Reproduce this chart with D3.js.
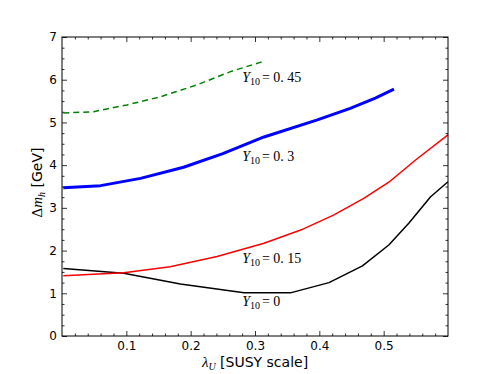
<!DOCTYPE html>
<html>
<head>
<meta charset="utf-8">
<script src="https://cdn.jsdelivr.net/npm/d3@7"></script>
<style>
  body { margin: 0; background: #fff; }
  .tick text { font-family: 'DejaVu Sans', sans-serif; font-size: 12px; fill: #000; }
  .math { font-family: 'Liberation Serif', serif; }
</style>
</head>
<body>
<div id="chart"></div>
<script>
// curves for different Y10
const y0 = [[0.002, 1.58], [0.096, 1.47], [0.184, 1.22], [0.283, 1.01], [0.355, 1.01],
  [0.415, 1.25], [0.467, 1.64], [0.508, 2.13], [0.539, 2.64], [0.573, 3.26], [0.6, 3.61]]
const y015 = [[0.002, 1.41], [0.096, 1.48], [0.168, 1.62], [0.241, 1.86], [0.314, 2.17],
  [0.371, 2.48], [0.422, 2.83], [0.469, 3.22], [0.508, 3.6], [0.552, 4.15], [0.6, 4.71]]
const y03 = [[0.002, 3.47], [0.06, 3.52], [0.122, 3.69], [0.189, 3.95], [0.25, 4.27],
  [0.314, 4.66], [0.397, 5.06], [0.448, 5.33], [0.487, 5.57], [0.516, 5.78]]
const y045 = [[0.002, 5.22], [0.049, 5.25], [0.101, 5.41], [0.153, 5.6], [0.21, 5.88],
  [0.262, 6.19], [0.311, 6.42]]

const xTicks = [0.1, 0.2, 0.3, 0.4, 0.5]
const yTicks = [0, 1, 2, 3, 4, 5, 6, 7]

// label anchors in data coords: [x, y, value text]
const labels = [[0.28, 5.95, '0. 45'], [0.28, 4.1, '0. 3'], [0.28, 1.72, '0. 15'], [0.28, 0.7, '0']]

const outerWidth = 498
const outerHeight = 374
const margin = {top: 37, right: 50, bottom: 38, left: 62}
const width = outerWidth - margin.left - margin.right
const height = outerHeight - margin.top - margin.bottom

const svg = d3.select('#chart').append('svg')
  .attr('width', outerWidth)
  .attr('height', outerHeight)
  .append('g')
  .attr('transform', `translate(${margin.left},${margin.top})`)

const xs = d3.scaleLinear().domain([0, 0.6]).range([0, width])
const ys = d3.scaleLinear().domain([0, 7]).range([height, 0])

const xMinor = d3.range(0, 0.601, 0.02).filter(v => Math.abs(v * 10 - Math.round(v * 10)) > 1e-6)
const yMinor = d3.range(0, 7.001, 0.25).filter(v => Math.abs(v - Math.round(v)) > 1e-6)

function styleAxis (g) {
  g.selectAll('.domain').remove()
  g.selectAll('.tick line').attr('stroke', '#000').attr('stroke-width', 0.8)
}

// major ticks, pointing inward, mirrored on top/right
svg.append('g').attr('transform', `translate(0,${height})`)
  .call(d3.axisBottom(xs).tickValues(xTicks).tickSizeInner(-5).tickSizeOuter(0).tickPadding(5)
    .tickFormat(d3.format('.1f')))
  .call(styleAxis)
svg.append('g')
  .call(d3.axisTop(xs).tickValues(xTicks).tickSizeInner(-5).tickSizeOuter(0).tickFormat(''))
  .call(styleAxis)
svg.append('g')
  .call(d3.axisLeft(ys).tickValues(yTicks).tickSizeInner(-5).tickSizeOuter(0).tickPadding(5)
    .tickFormat(d3.format('d')))
  .call(styleAxis)
svg.append('g').attr('transform', `translate(${width},0)`)
  .call(d3.axisRight(ys).tickValues(yTicks).tickSizeInner(-5).tickSizeOuter(0).tickFormat(''))
  .call(styleAxis)

// minor ticks
svg.append('g').attr('transform', `translate(0,${height})`)
  .call(d3.axisBottom(xs).tickValues(xMinor).tickSize(-2.5).tickFormat(''))
  .call(styleAxis)
svg.append('g')
  .call(d3.axisTop(xs).tickValues(xMinor).tickSize(-2.5).tickFormat(''))
  .call(styleAxis)
svg.append('g')
  .call(d3.axisLeft(ys).tickValues(yMinor).tickSize(-2.5).tickFormat(''))
  .call(styleAxis)
svg.append('g').attr('transform', `translate(${width},0)`)
  .call(d3.axisRight(ys).tickValues(yMinor).tickSize(-2.5).tickFormat(''))
  .call(styleAxis)

// curves
const line = d3.line().x(d => xs(d[0])).y(d => ys(d[1]))
const series = [
  {data: y0, color: '#000000', w: 1.5, dash: null},
  {data: y015, color: '#ff0000', w: 1.5, dash: null},
  {data: y03, color: '#0000ff', w: 3, dash: null},
  {data: y045, color: '#008000', w: 1.5, dash: '6,4'}
]
svg.append('g')
  .selectAll('path').data(series).enter().append('path')
  .attr('d', d => line(d.data))
  .attr('fill', 'none')
  .attr('stroke', d => d.color)
  .attr('stroke-width', d => d.w)
  .attr('stroke-dasharray', d => d.dash)
  .attr('stroke-linejoin', 'round')

// frame
svg.append('rect')
  .attr('width', width).attr('height', height)
  .attr('fill', 'none').attr('stroke', '#000').attr('stroke-width', 1)

// curve labels
const lab = svg.append('g').selectAll('text').data(labels).enter().append('text')
  .attr('class', 'math')
  .attr('x', d => xs(d[0]))
  .attr('y', d => ys(d[1]))
  .attr('font-size', 14)
lab.append('tspan').attr('font-style', 'italic').text('Y')
lab.append('tspan').attr('font-size', 10).attr('dy', 3).text('10')
lab.append('tspan').attr('dy', -3).attr('dx', 2).text('= ')
lab.append('tspan').text(d => d[2])

// x axis label
const xl = svg.append('text')
  .attr('x', width / 2)
  .attr('y', height + 31)
  .attr('text-anchor', 'middle')
  .style('font-size', '14px')
xl.append('tspan').attr('class', 'math').attr('font-style', 'italic').attr('font-size', 15).text('λ')
xl.append('tspan').attr('class', 'math').attr('font-style', 'italic').attr('font-size', 10).attr('dy', 3).text('U')
xl.append('tspan').attr('font-family', 'DejaVu Sans, sans-serif').attr('dy', -3).text(' [SUSY scale]')

// y axis label
const yl = svg.append('text')
  .attr('transform', `translate(-20,${height / 2 - 4}) rotate(-90)`)
  .attr('text-anchor', 'middle')
  .style('font-size', '14px')
yl.append('tspan').attr('class', 'math').attr('font-size', 15).text('Δ')
yl.append('tspan').attr('class', 'math').attr('font-style', 'italic').attr('font-size', 15).text('m')
yl.append('tspan').attr('class', 'math').attr('font-style', 'italic').attr('font-size', 10).attr('dy', 3).text('h')
yl.append('tspan').attr('font-family', 'DejaVu Sans, sans-serif').attr('dy', -3).text(' [GeV]')
</script>
</body>
</html>
